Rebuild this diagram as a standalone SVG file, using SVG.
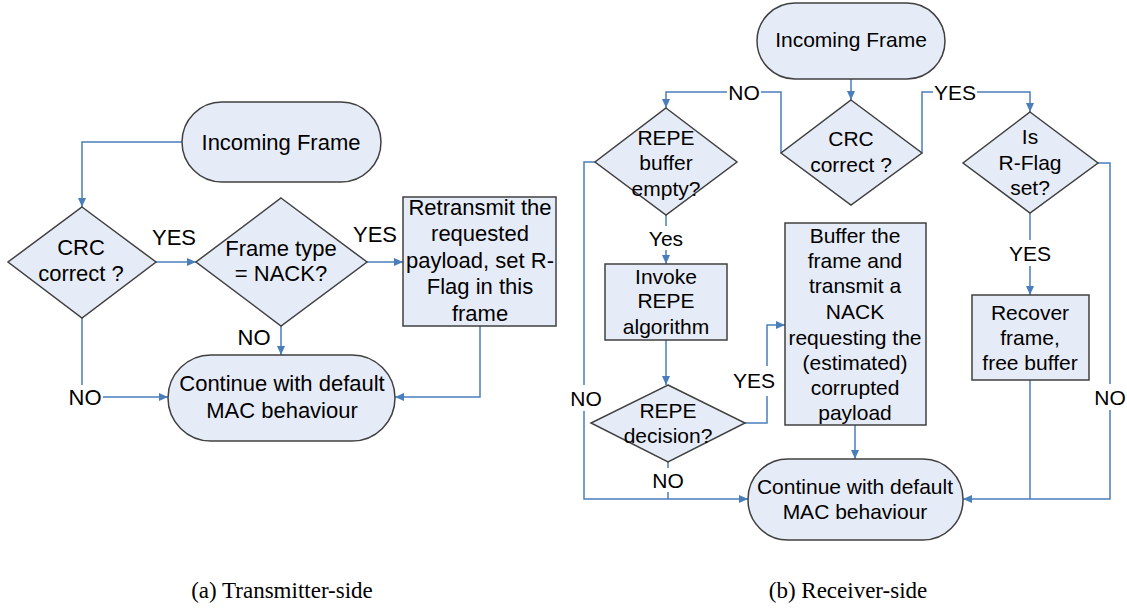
<svg xmlns="http://www.w3.org/2000/svg" width="1127" height="608" viewBox="0 0 1127 608">
<defs>
<marker id="arr" markerUnits="userSpaceOnUse" markerWidth="10" markerHeight="10" viewBox="0 0 10 10" refX="9" refY="5" orient="auto">
<path d="M0,1 L9,5 L0,9 z" fill="#4A7EBB"/>
</marker>
<style>
.sh{fill:#E6ECF7;stroke:#404040;stroke-width:1.5}
.cn{fill:none;stroke:#4A7EBB;stroke-width:1.5}
.ca{fill:none;stroke:#4A7EBB;stroke-width:1.5;marker-end:url(#arr)}
.tl{font-family:"Liberation Sans",Arial,sans-serif;font-size:22px;fill:#000;text-anchor:middle}
.tr{font-family:"Liberation Sans",Arial,sans-serif;font-size:21px;fill:#000;text-anchor:middle}
.bg{fill:#fff;stroke:none}
.cap{font-family:"Liberation Serif","Times New Roman",serif;font-size:23px;fill:#000;text-anchor:middle}
</style>
</defs>
<rect width="1127" height="608" fill="#fff"/>

<g id="connectors">
<path class="ca" d="M182,142 H82 V207"/>
<path class="ca" d="M156,262 H196"/>
<path class="ca" d="M367,262 H403"/>
<path class="ca" d="M281,326 V355"/>
<path class="ca" d="M82,318 V397 H168"/>
<path class="ca" d="M480,326 V397 H395"/>

<path class="ca" d="M851,79 V100"/>
<path class="ca" d="M781,153 V92 H666 V108"/>
<path class="ca" d="M922,153 V92 H1030 V112"/>
<path class="ca" d="M666,215 V264"/>
<path class="ca" d="M666,340 V385"/>
<path class="ca" d="M745,423 H767 V325 H785"/>
<path class="cn" d="M668,462 V499"/>
<path class="ca" d="M595,162 H584 V499 H748"/>
<path class="ca" d="M855,425 V459"/>
<path class="ca" d="M1030,213 V295"/>
<path class="cn" d="M1030,380 V499"/>
<path class="ca" d="M1098,163 H1110 V499 H963"/>
</g>

<g id="labels">
<rect class="bg" x="67" y="385" width="36" height="24"/>
<rect class="bg" x="727" y="81" width="34" height="22"/>
<rect class="bg" x="933" y="81" width="44" height="22"/>
<rect class="bg" x="649" y="226" width="34" height="24"/>
<rect class="bg" x="1008" y="240" width="44" height="26"/>
<rect class="bg" x="732" y="366" width="44" height="30"/>
<rect class="bg" x="569" y="385" width="34" height="26"/>
<rect class="bg" x="651" y="468" width="34" height="24"/>
<rect class="bg" x="1093" y="384" width="34" height="26"/>
<text class="tl" x="174" y="245">YES</text>
<text class="tl" x="375" y="242">YES</text>
<text class="tl" x="254" y="345">NO</text>
<text class="tl" x="85" y="405">NO</text>
<text class="tr" x="744" y="100">NO</text>
<text class="tr" x="955" y="100">YES</text>
<text class="tr" x="666" y="246">Yes</text>
<text class="tr" x="1030" y="261">YES</text>
<text class="tr" x="754" y="388">YES</text>
<text class="tr" x="586" y="406">NO</text>
<text class="tr" x="668" y="488">NO</text>
<text class="tr" x="1110" y="405">NO</text>
</g>

<g id="a-incoming">
<rect class="sh" x="182" y="102" width="199" height="80" rx="40"/>
<text class="tl" x="281" y="150">Incoming Frame</text>
</g>
<g id="a-crc">
<polygon class="sh" points="82,207 156,262 82,318 8,262"/>
<text class="tl" x="81" y="255">CRC</text>
<text class="tl" x="81" y="281">correct ?</text>
</g>
<g id="a-frametype">
<polygon class="sh" points="281,198 367,262 281,326 196,262"/>
<text class="tl" x="281" y="256">Frame type</text>
<text class="tl" x="281" y="281">= NACK?</text>
</g>
<g id="a-retransmit">
<rect class="sh" x="403" y="197" width="153" height="129"/>
<text class="tl" x="480" y="215">Retransmit the</text>
<text class="tl" x="480" y="241">requested</text>
<text class="tl" x="480" y="268">payload, set R-</text>
<text class="tl" x="480" y="294">Flag in this</text>
<text class="tl" x="480" y="321">frame</text>
</g>
<g id="a-continue">
<rect class="sh" x="168" y="355" width="227" height="86" rx="43"/>
<text class="tl" x="282" y="391">Continue with default</text>
<text class="tl" x="282" y="418">MAC behaviour</text>
</g>

<g id="b-incoming">
<rect class="sh" x="757" y="3" width="188" height="76" rx="38"/>
<text class="tr" x="851" y="47">Incoming Frame</text>
</g>
<g id="b-crc">
<polygon class="sh" points="851,100 922,153 851,205 781,153"/>
<text class="tr" x="851" y="146">CRC</text>
<text class="tr" x="851" y="172">correct ?</text>
</g>
<g id="b-repebuffer">
<polygon class="sh" points="666,108 737,162 666,215 595,162"/>
<text class="tr" x="666" y="145">REPE</text>
<text class="tr" x="666" y="170">buffer</text>
<text class="tr" x="666" y="196">empty?</text>
</g>
<g id="b-isrflag">
<polygon class="sh" points="1030,112 1098,163 1030,213 963,163"/>
<text class="tr" x="1030" y="144">Is</text>
<text class="tr" x="1030" y="170">R-Flag</text>
<text class="tr" x="1030" y="195">set?</text>
</g>
<g id="b-invoke">
<rect class="sh" x="605" y="264" width="122" height="76"/>
<text class="tr" x="666" y="284">Invoke</text>
<text class="tr" x="666" y="308">REPE</text>
<text class="tr" x="666" y="334">algorithm</text>
</g>
<g id="b-decision">
<polygon class="sh" points="668,385 745,423 668,462 591,423"/>
<text class="tr" x="668" y="418">REPE</text>
<text class="tr" x="668" y="443">decision?</text>
</g>
<g id="b-buffer">
<rect class="sh" x="785" y="223" width="141" height="202"/>
<text class="tr" x="855" y="243">Buffer the</text>
<text class="tr" x="855" y="268">frame and</text>
<text class="tr" x="855" y="293">transmit a</text>
<text class="tr" x="855" y="319">NACK</text>
<text class="tr" x="855" y="345">requesting the</text>
<text class="tr" x="855" y="370">(estimated)</text>
<text class="tr" x="855" y="395">corrupted</text>
<text class="tr" x="855" y="420">payload</text>
</g>
<g id="b-recover">
<rect class="sh" x="972" y="295" width="117" height="85"/>
<text class="tr" x="1030" y="320">Recover</text>
<text class="tr" x="1030" y="345">frame,</text>
<text class="tr" x="1030" y="370">free buffer</text>
</g>
<g id="b-continue">
<rect class="sh" x="748" y="459" width="215" height="81" rx="40"/>
<text class="tr" x="855" y="494">Continue with default</text>
<text class="tr" x="855" y="519">MAC behaviour</text>
</g>

<g id="captions">
<text class="cap" x="282" y="598">(a) Transmitter-side</text>
<text class="cap" x="848" y="598">(b) Receiver-side</text>
</g>
</svg>
